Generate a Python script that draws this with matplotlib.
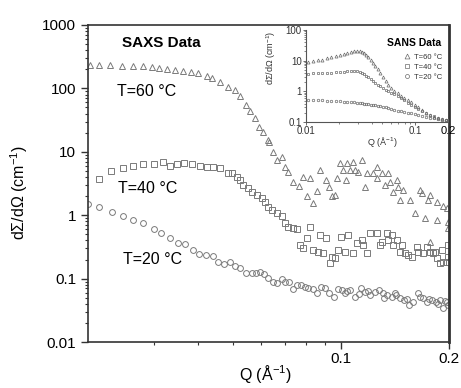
import matplotlib
matplotlib.use("Agg")
import matplotlib.pyplot as plt
from matplotlib.ticker import FixedLocator, NullFormatter, FuncFormatter, LogLocator
import numpy as np

plt.rcParams['font.family'] = ['Liberation Sans', 'DejaVu Sans']
plt.rcParams['mathtext.fontset'] = 'custom'
plt.rcParams['mathtext.rm'] = 'Liberation Sans'
plt.rcParams['mathtext.it'] = 'Liberation Sans:italic'

# ---------------- SAXS data (main panel) ----------------
q60 = [0.0200, 0.0212, 0.0227, 0.0245, 0.0263, 0.0281, 0.0298, 0.0311, 0.0328, 0.0345,
       0.0363, 0.0382, 0.0400, 0.0424, 0.0437, 0.0460, 0.0485, 0.0507, 0.0523, 0.0544,
       0.0558, 0.0576, 0.0591, 0.0606, 0.0626, 0.0630, 0.0646, 0.0663, 0.0685, 0.0698,
       0.0712, 0.0735, 0.0764, 0.0784, 0.0804, 0.0820, 0.0836, 0.0857, 0.0874, 0.0908,
       0.0926, 0.0944, 0.0962, 0.0975, 0.0994, 0.1013, 0.1032, 0.1039, 0.1059, 0.1080,
       0.1094, 0.1115, 0.1144, 0.1166, 0.1181, 0.1228, 0.1260, 0.1260, 0.1300, 0.1326,
       0.1352, 0.1369, 0.1396, 0.1432, 0.1441, 0.1460, 0.1488, 0.1556, 0.1606, 0.1660,
       0.1681, 0.1714, 0.1747, 0.1769, 0.1769, 0.1850, 0.1850, 0.1922, 0.1971, 0.1984,
       0.1984]
i60 = [232, 232, 230, 228, 226, 225, 217, 209, 202, 195,
       188, 181, 175, 157, 146, 126, 105, 94, 76, 55,
       44, 34, 25, 20.6, 15.3, 14.2, 9.9, 7.4, 8.3, 5.8,
       4.8, 3.4, 2.9, 4.0, 2.0, 3.9, 1.55, 2.4, 5.2, 3.6,
       2.8, 2.0, 2.1, 3.9, 6.7, 5.2, 3.6, 6.7, 5.2, 6.9,
       5.2, 4.8, 7.4, 2.8, 4.6, 4.6, 5.8, 3.9, 4.6, 3.0,
       4.6, 3.4, 2.3, 3.6, 2.8, 1.74, 2.5, 1.74, 1.1, 2.5,
       2.2, 0.90, 1.74, 2.1, 0.38, 1.6, 0.84, 1.38, 1.31, 0.78,
       0.62]

q40 = [0.0212, 0.0229, 0.0247, 0.0263, 0.0281, 0.0300, 0.0318, 0.0334, 0.0349, 0.0365,
       0.0385, 0.0405, 0.0424, 0.0440, 0.0460, 0.0485, 0.0497, 0.0513, 0.0523, 0.0533,
       0.0551, 0.0565, 0.0583, 0.0603, 0.0614, 0.0626, 0.0642, 0.0663, 0.0685, 0.0698,
       0.0712, 0.0735, 0.0754, 0.0769, 0.0784, 0.0804, 0.0820, 0.0836, 0.0863, 0.0874,
       0.0891, 0.0908, 0.0932, 0.0944, 0.0962, 0.0981, 0.1000, 0.1026, 0.1046, 0.1080,
       0.1108, 0.1144, 0.1151, 0.1181, 0.1205, 0.1260, 0.1284, 0.1300, 0.1343, 0.1352,
       0.1387, 0.1396, 0.1432, 0.1460, 0.1479, 0.1507, 0.1536, 0.1576, 0.1627, 0.1638,
       0.1693, 0.1737, 0.1769, 0.1804, 0.1827, 0.1850, 0.1887, 0.1911, 0.1922, 0.1971,
       0.1984, 0.1984]
i40 = [3.7, 5.0, 5.5, 6.0, 6.4, 6.4, 6.9, 6.0, 6.4, 6.6,
       6.4, 6.0, 5.8, 5.8, 5.5, 4.6, 4.6, 4.0, 3.6, 3.0,
       2.7, 2.3, 2.1, 1.9, 1.6, 1.35, 1.21, 1.08, 0.98, 0.76,
       0.65, 0.63, 0.61, 0.34, 0.30, 0.43, 0.65, 0.28, 0.26, 0.49,
       0.25, 0.43, 0.176, 0.22, 0.21, 0.28, 0.45, 0.26, 0.49, 0.25,
       0.37, 0.41, 0.34, 0.25, 0.52, 0.52, 0.34, 0.38, 0.52, 0.41,
       0.49, 0.34, 0.41, 0.26, 0.34, 0.25, 0.235, 0.22, 0.31, 0.26,
       0.25, 0.31, 0.26, 0.25, 0.26, 0.21, 0.176, 0.28, 0.18, 0.18,
       0.34, 0.22]

q20 = [0.0197, 0.0212, 0.0230, 0.0247, 0.0263, 0.0281, 0.0300, 0.0315, 0.0334, 0.0352,
       0.0368, 0.0387, 0.0402, 0.0420, 0.0440, 0.0454, 0.0472, 0.0491, 0.0507, 0.0523,
       0.0544, 0.0565, 0.0580, 0.0595, 0.0610, 0.0626, 0.0646, 0.0663, 0.0685, 0.0698,
       0.0717, 0.0735, 0.0754, 0.0774, 0.0794, 0.0809, 0.0836, 0.0857, 0.0880, 0.0903,
       0.0926, 0.0956, 0.0981, 0.1006, 0.1026, 0.1059, 0.1094, 0.1137, 0.1166, 0.1205,
       0.1243, 0.1276, 0.1309, 0.1343, 0.1387, 0.1423, 0.1460, 0.1498, 0.1546, 0.1586,
       0.1638, 0.1693, 0.1737, 0.1793, 0.1839, 0.1887, 0.1922, 0.1971, 0.1984,
       0.1040, 0.1120, 0.1190, 0.1320, 0.1410, 0.1530, 0.1660, 0.1760, 0.1860, 0.1950]
i20 = [1.5, 1.35, 1.12, 0.97, 0.84, 0.75, 0.61, 0.52, 0.44, 0.36,
       0.35, 0.28, 0.244, 0.235, 0.227, 0.18, 0.17, 0.18, 0.158, 0.147,
       0.122, 0.122, 0.122, 0.127, 0.118, 0.102, 0.088, 0.085, 0.099, 0.088,
       0.088, 0.069, 0.079, 0.079, 0.074, 0.071, 0.069, 0.059, 0.074, 0.071,
       0.059, 0.051, 0.069, 0.066, 0.059, 0.066, 0.051, 0.071, 0.061, 0.055,
       0.061, 0.066, 0.059, 0.055, 0.051, 0.055, 0.049, 0.046, 0.038, 0.043,
       0.059, 0.049, 0.043, 0.046, 0.043, 0.046, 0.034, 0.043, 0.038,
       0.063, 0.057, 0.064, 0.050, 0.060, 0.047, 0.052, 0.048, 0.040, 0.045]

# ---------------- SANS data (inset) ----------------
qs = [0.0105, 0.0116, 0.0128, 0.0141, 0.0155, 0.0170, 0.0187, 0.0205, 0.0222, 0.0240,
      0.0258, 0.0275, 0.0292, 0.0310, 0.0325, 0.0340, 0.0355, 0.0372, 0.0390, 0.0410,
      0.0432, 0.0455, 0.0480, 0.0508, 0.0538, 0.0570, 0.0605, 0.0645, 0.0690, 0.0740,
      0.0795, 0.0855, 0.0920, 0.0990, 0.1070, 0.1160, 0.1260, 0.1370, 0.1490, 0.1620,
      0.1760, 0.1900, 0.2000]
s60 = [9.2, 9.6, 10.2, 10.9, 11.8, 12.9, 14.0, 15.3, 16.8, 18.0,
       19.1, 20.0, 20.6, 20.8, 19.8, 17.8, 15.5, 13.0, 10.8, 8.6,
       6.8, 5.2, 4.0, 3.0, 2.2, 1.65, 1.28, 1.02, 0.85, 0.71,
       0.61, 0.53, 0.44, 0.37, 0.30, 0.245, 0.20, 0.168, 0.147, 0.133,
       0.123, 0.116, 0.112]
s40 = [3.8, 3.85, 3.9, 3.95, 4.0, 4.1, 4.2, 4.3, 4.4, 4.5,
       4.55, 4.6, 4.5, 4.3, 4.0, 3.6, 3.2, 2.85, 2.5, 2.2,
       1.9, 1.65, 1.45, 1.28, 1.12, 1.0, 0.90, 0.80, 0.70, 0.60,
       0.51, 0.43, 0.37, 0.31, 0.27, 0.23, 0.20, 0.175, 0.155, 0.138,
       0.125, 0.117, 0.113]
s20 = [0.54, 0.53, 0.52, 0.51, 0.50, 0.49, 0.48, 0.47, 0.46, 0.45,
       0.44, 0.435, 0.43, 0.42, 0.41, 0.40, 0.39, 0.38, 0.37, 0.36,
       0.35, 0.34, 0.33, 0.315, 0.30, 0.285, 0.27, 0.25, 0.235, 0.22,
       0.21, 0.20, 0.19, 0.18, 0.17, 0.16, 0.15, 0.14, 0.133, 0.126,
       0.12, 0.115, 0.11]

main_yticks = [0.01, 0.1, 1, 10, 100, 1000]
main_xticklabels = [0.1, 0.2]
inset_yticks = [0.1, 1, 10, 100]
inset_xticks = [0.01, 0.1, 0.2]
legend_labels = ['T=60 °C', 'T=40 °C', 'T=20 °C']

W, H = 461, 388
fig = plt.figure(figsize=(W / 100, H / 100), dpi=100)
ax = fig.add_axes([88 / W, 1 - 342 / H, 361 / W, 317 / H])

mcol = '#7a7a7a'
ax.plot(q60, i60, linestyle='none', marker='^', ms=4.8, mfc='none', mec=mcol, mew=0.7)
ax.plot(q40, i40, linestyle='none', marker='s', ms=3.7, mfc='none', mec=mcol, mew=0.7)
ax.plot(q20, i20, linestyle='none', marker='o', ms=4.2, mfc='none', mec=mcol, mew=0.7)

ax.set_xscale('log')
ax.set_yscale('log')
ax.set_xlim(0.0197, 0.2)
ax.set_ylim(0.01, 1000)

spcol = '#333333'
for s in ax.spines.values():
    s.set_color(spcol)
    s.set_linewidth(1.2)
ax.spines['right'].set_linewidth(2.0)

ax.yaxis.set_major_locator(FixedLocator(main_yticks))
ax.yaxis.set_major_formatter(FuncFormatter(lambda v, p: '%g' % v))
ax.yaxis.set_minor_locator(LogLocator(base=10, subs=np.arange(2, 10), numticks=20))
ax.yaxis.set_minor_formatter(NullFormatter())
ax.xaxis.set_major_locator(FixedLocator(main_xticklabels))
ax.xaxis.set_major_formatter(FuncFormatter(lambda v, p: '%g' % v))
ax.xaxis.set_minor_locator(FixedLocator([0.03, 0.04, 0.05, 0.06, 0.07, 0.08, 0.09]))
ax.xaxis.set_minor_formatter(NullFormatter())
ax.tick_params(which='major', direction='out', length=5, width=1.0, color=spcol,
               labelsize=11, labelcolor='black', top=False, right=False)
ax.tick_params(axis='x', which='major', pad=2)
ax.tick_params(which='minor', direction='out', length=2.5, width=0.8, color=spcol,
               top=False, right=False)

ax.set_ylabel('dΣ/dΩ (cm$^{-1}$)', fontsize=11.5)
ax.yaxis.set_label_coords(-0.16, 0.47)
fig.text(265 / W, 1 - 374 / H, 'Q (Å$^{-1}$)', fontsize=11.5, ha='center', va='center')

ax.text(122 / W, 1 - 43 / H, 'SAXS Data', transform=fig.transFigure, fontsize=11,
        fontweight='bold', va='center', ha='left')
ax.text(117 / W, 1 - 92 / H, 'T=60 °C', transform=fig.transFigure, fontsize=11.5,
        va='center', ha='left')
ax.text(118 / W, 1 - 188 / H, 'T=40 °C', transform=fig.transFigure, fontsize=11.5,
        va='center', ha='left')
ax.text(123 / W, 1 - 260 / H, 'T=20 °C', transform=fig.transFigure, fontsize=11.5,
        va='center', ha='left')

# ---------------- inset ----------------
axi = fig.add_axes([306 / W, 1 - 122 / H, 142 / W, 92 / H])
icol = '#6a6a6a'
h1, = axi.plot(qs, s60, linestyle='none', marker='^', ms=2.2, mfc='none', mec=icol, mew=0.5)
h2, = axi.plot(qs, s40, linestyle='none', marker='s', ms=1.8, mfc='none', mec=icol, mew=0.5)
h3, = axi.plot(qs, s20, linestyle='none', marker='o', ms=1.8, mfc='none', mec=icol, mew=0.5)
axi.set_xscale('log')
axi.set_yscale('log')
axi.set_xlim(0.01, 0.2)
axi.set_ylim(0.1, 100)
axi.spines['top'].set_visible(False)
axi.spines['right'].set_visible(False)
for s in ['left', 'bottom']:
    axi.spines[s].set_color('#555555')
    axi.spines[s].set_linewidth(0.8)
axi.yaxis.set_major_locator(FixedLocator(inset_yticks))
axi.yaxis.set_major_formatter(FuncFormatter(lambda v, p: '%g' % v))
axi.yaxis.set_minor_locator(LogLocator(base=10, subs=np.arange(2, 10), numticks=20))
axi.yaxis.set_minor_formatter(NullFormatter())
axi.xaxis.set_major_locator(FixedLocator(inset_xticks))
axi.xaxis.set_major_formatter(FuncFormatter(lambda v, p: '%g' % v))
axi.xaxis.set_minor_locator(FixedLocator([0.02, 0.03, 0.04, 0.05, 0.06, 0.07, 0.08, 0.09]))
axi.xaxis.set_minor_formatter(NullFormatter())
axi.tick_params(which='major', direction='out', length=2.5, width=0.6, color='#555555',
                labelsize=7, pad=0.5, labelcolor='#333333')
axi.tick_params(which='minor', direction='out', length=1.3, width=0.5, color='#555555')
for lab in axi.get_xticklabels():
    if lab.get_text() == '0.2':
        lab.set_fontsize(8)
        lab.set_color('black')
axi.set_xlabel('Q (Å$^{-1}$)', fontsize=6.5, color='#333333')
axi.xaxis.set_label_coords(0.535, -0.14)
axi.set_ylabel('dΣ/dΩ (cm$^{-1}$)', fontsize=6.5, color='#333333')
axi.yaxis.set_label_coords(-0.2, 0.7)
axi.text(0.95, 0.86, 'SANS Data', transform=axi.transAxes, fontsize=7.5,
         fontweight='bold', ha='right', va='center')
leg = axi.legend([h1, h2, h3], legend_labels, loc='upper right',
                 bbox_to_anchor=(1.0, 0.8), frameon=False, fontsize=5.5,
                 handlelength=0.8, handletextpad=0.6, labelspacing=0.35,
                 borderpad=0.2, markerscale=1.6)
for t in leg.get_texts():
    t.set_color('#333333')

fig.savefig('out.png', dpi=100)
